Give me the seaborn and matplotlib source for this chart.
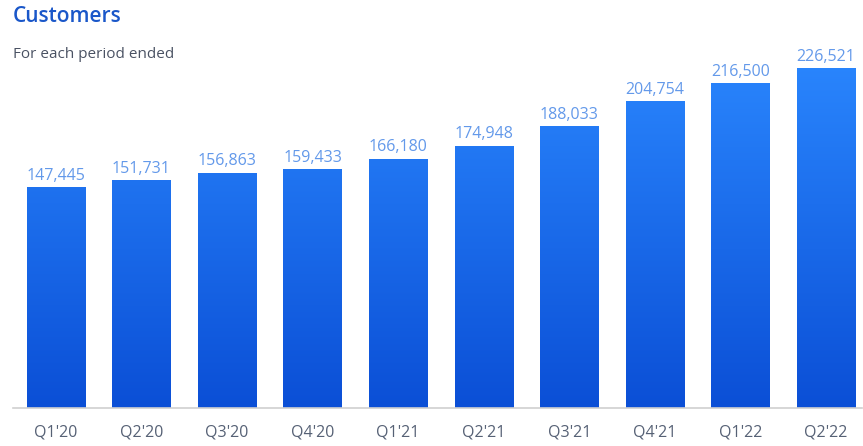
import numpy as np
import pandas as pd
import seaborn as sns
import matplotlib.pyplot as plt
from matplotlib.colors import LinearSegmentedColormap

quarters = ["Q1'20", "Q2'20", "Q3'20", "Q4'20", "Q1'21", "Q2'21", "Q3'21", "Q4'21", "Q1'22", "Q2'22"]
customers = [147445, 151731, 156863, 159433, 166180, 174948, 188033, 204754, 216500, 226521]

df = pd.DataFrame({"quarter": quarters, "customers": customers})

sns.set_style("white")
plt.rcParams['font.family'] = ['Open Sans', 'DejaVu Sans']

fig = plt.figure(figsize=(8.63, 4.46), dpi=100)
ax = fig.add_axes([13 / 863, 38 / 446, 849 / 863, 363 / 446])

sns.barplot(data=df, x="quarter", y="customers", color="#1f6cf0", width=0.68, ax=ax, saturation=1)

# vertical gradient on every bar
grad = LinearSegmentedColormap.from_list("blues", ["#0b4fd6", "#2b88ff"])
ymax = 242000
ax.set_ylim(0, ymax)
ax.set_xlim(-0.5, 9.42)
for bar in ax.patches:
    x0, w, h = bar.get_x(), bar.get_width(), bar.get_height()
    img = ax.imshow(np.linspace(0, 1, 256).reshape(-1, 1), cmap=grad, origin="lower",
                    extent=[x0, x0 + w, 0, ymax], aspect="auto", zorder=bar.get_zorder() + 0.1)
    img.set_clip_path(bar)
    ax.text(x0 + w / 2, h + 2200, f"{int(h):,}", ha="center", va="bottom",
            fontsize=11.5, color="#6399ea")

ax.set_xlabel("")
ax.set_ylabel("")
ax.set_yticks([])
for s in ["top", "right", "left"]:
    ax.spines[s].set_visible(False)
ax.spines["bottom"].set_color("#d0d0d0")
ax.spines["bottom"].set_linewidth(1.2)
ax.tick_params(axis="x", length=0, pad=12, labelsize=11.5)
for lbl in ax.get_xticklabels():
    lbl.set_color("#566175")

fig.text(13 / 863, 1 - 16 / 446, "Customers", fontsize=15, color="#1a57c9", va="center", ha="left",
         fontweight="semibold")
fig.text(13 / 863, 1 - 54 / 446, "For each period ended", fontsize=11, color="#4a5263", va="center", ha="left")

fig.savefig("out.png", dpi=100)
